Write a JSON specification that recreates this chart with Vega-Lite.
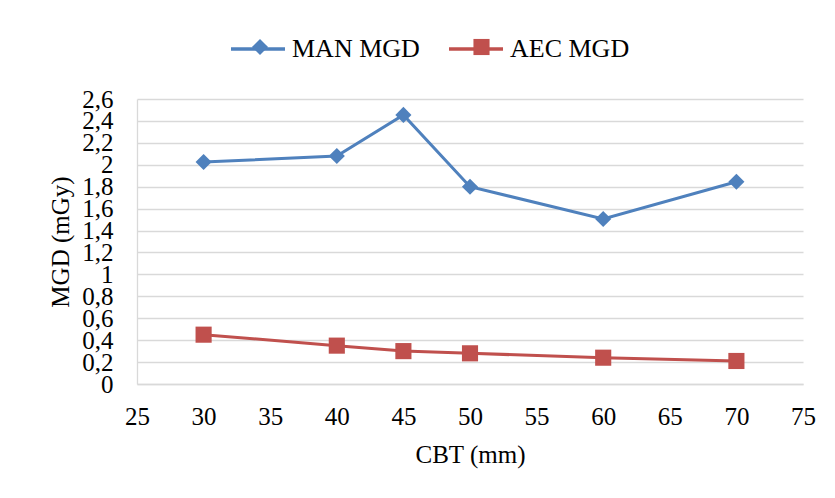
{
  "$schema": "https://vega.github.io/schema/vega-lite/v6.json",
  "width": 666,
  "height": 285,
  "autosize": {"type": "none"},
  "padding": {"left": 137, "top": 99, "right": 32, "bottom": 114},
  "background": "white",
  "config": {
    "view": {"stroke": null},
    "font": "Liberation Serif",
    "axis": {
      "labelFont": "Liberation Serif",
      "titleFont": "Liberation Serif",
      "labelColor": "#000000",
      "titleColor": "#000000",
      "titleFontWeight": "normal",
      "labelFontSize": 25,
      "titleFontSize": 25,
      "domainColor": "#D9D9D9",
      "domainWidth": 1.3,
      "gridColor": "#D9D9D9",
      "gridWidth": 1.3,
      "ticks": false,
      "tickSize": 0,
      "labelOverlap": false,
      "labelBound": false,
      "labelFlush": false
    }
  },
  "data": {
    "values": [
      {"cbt": 30, "series": "MAN MGD", "marker": "MAN MGD", "mgd": 2.025},
      {"cbt": 40, "series": "MAN MGD", "marker": "MAN MGD", "mgd": 2.08},
      {"cbt": 45, "series": "MAN MGD", "marker": "MAN MGD", "mgd": 2.455},
      {"cbt": 50, "series": "MAN MGD", "marker": "MAN MGD", "mgd": 1.8},
      {"cbt": 60, "series": "MAN MGD", "marker": "MAN MGD", "mgd": 1.505},
      {"cbt": 70, "series": "MAN MGD", "marker": "MAN MGD", "mgd": 1.845},
      {"cbt": 30, "series": "AEC MGD", "marker": "AEC MGD", "mgd": 0.45},
      {"cbt": 40, "series": "AEC MGD", "marker": "AEC MGD", "mgd": 0.35},
      {"cbt": 45, "series": "AEC MGD", "marker": "AEC MGD", "mgd": 0.3},
      {"cbt": 50, "series": "AEC MGD", "marker": "AEC MGD", "mgd": 0.28},
      {"cbt": 60, "series": "AEC MGD", "marker": "AEC MGD", "mgd": 0.24},
      {"cbt": 70, "series": "AEC MGD", "marker": "AEC MGD", "mgd": 0.21}
    ]
  },
  "encoding": {
    "x": {
      "field": "cbt",
      "type": "quantitative",
      "scale": {"domain": [25, 75], "nice": false, "zero": false},
      "axis": {
        "title": "CBT (mm)",
        "values": [25, 30, 35, 40, 45, 50, 55, 60, 65, 70, 75],
        "grid": false,
        "labelBaseline": "alphabetic",
        "labelPadding": 40,
        "titleBaseline": "alphabetic",
        "titleY": 78,
        "titleX": 333
      }
    },
    "y": {
      "field": "mgd",
      "type": "quantitative",
      "scale": {"domain": [0, 2.6], "nice": false},
      "axis": {
        "title": "MGD (mGy)",
        "values": [0, 0.2, 0.4, 0.6, 0.8, 1, 1.2, 1.4, 1.6, 1.8, 2, 2.2, 2.4, 2.6],
        "labelExpr": "replace(format(datum.value, '.1~f'), '.', ',')",
        "labelPadding": 24,
        "labelBaseline": "middle",
        "titleBaseline": "alphabetic",
        "titleAngle": -90,
        "titleAlign": "center",
        "titleX": -69,
        "titleY": 142.5
      }
    }
  },
  "layer": [
    {
      "mark": {"type": "line", "strokeWidth": 3},
      "encoding": {
        "color": {
          "field": "series",
          "type": "nominal",
          "scale": {"domain": ["MAN MGD", "AEC MGD"], "range": ["#4F81BD", "#C0504D"]},
          "legend": {
            "title": null,
            "orient": "none",
            "direction": "horizontal",
            "legendX": 92,
            "legendY": -79,
            "labelFont": "Liberation Serif",
            "labelFontSize": 26,
            "labelColor": "#000000",
            "labelOffset": 5,
            "columnPadding": 22,
            "symbolType": "stroke",
            "symbolSize": 2916,
            "symbolStrokeWidth": 3.5
          }
        }
      }
    },
    {
      "mark": {"type": "point", "filled": true, "opacity": 1, "size": 260},
      "encoding": {
        "fill": {
          "field": "marker",
          "type": "nominal",
          "sort": "descending",
          "scale": {"range": ["#4F81BD", "#C0504D"]},
          "legend": {
            "title": null,
            "orient": "none",
            "direction": "horizontal",
            "legendX": 110,
            "legendY": -65,
            "labelFont": "Liberation Serif",
            "labelFontSize": 26,
            "labelOpacity": 0,
            "labelOffset": 24,
            "columnPadding": 43.5,
            "symbolSize": 260,
            "symbolOpacity": 1,
            "symbolStrokeWidth": 0
          }
        },
        "shape": {
          "field": "marker",
          "type": "nominal",
          "sort": "descending",
          "scale": {"range": ["diamond", "square"]},
          "legend": {
            "title": null,
            "orient": "none",
            "direction": "horizontal",
            "legendX": 110,
            "legendY": -65,
            "labelFont": "Liberation Serif",
            "labelFontSize": 26,
            "labelOpacity": 0,
            "labelOffset": 24,
            "columnPadding": 43.5,
            "symbolSize": 260,
            "symbolOpacity": 1,
            "symbolStrokeWidth": 0
          }
        }
      }
    }
  ]
}
